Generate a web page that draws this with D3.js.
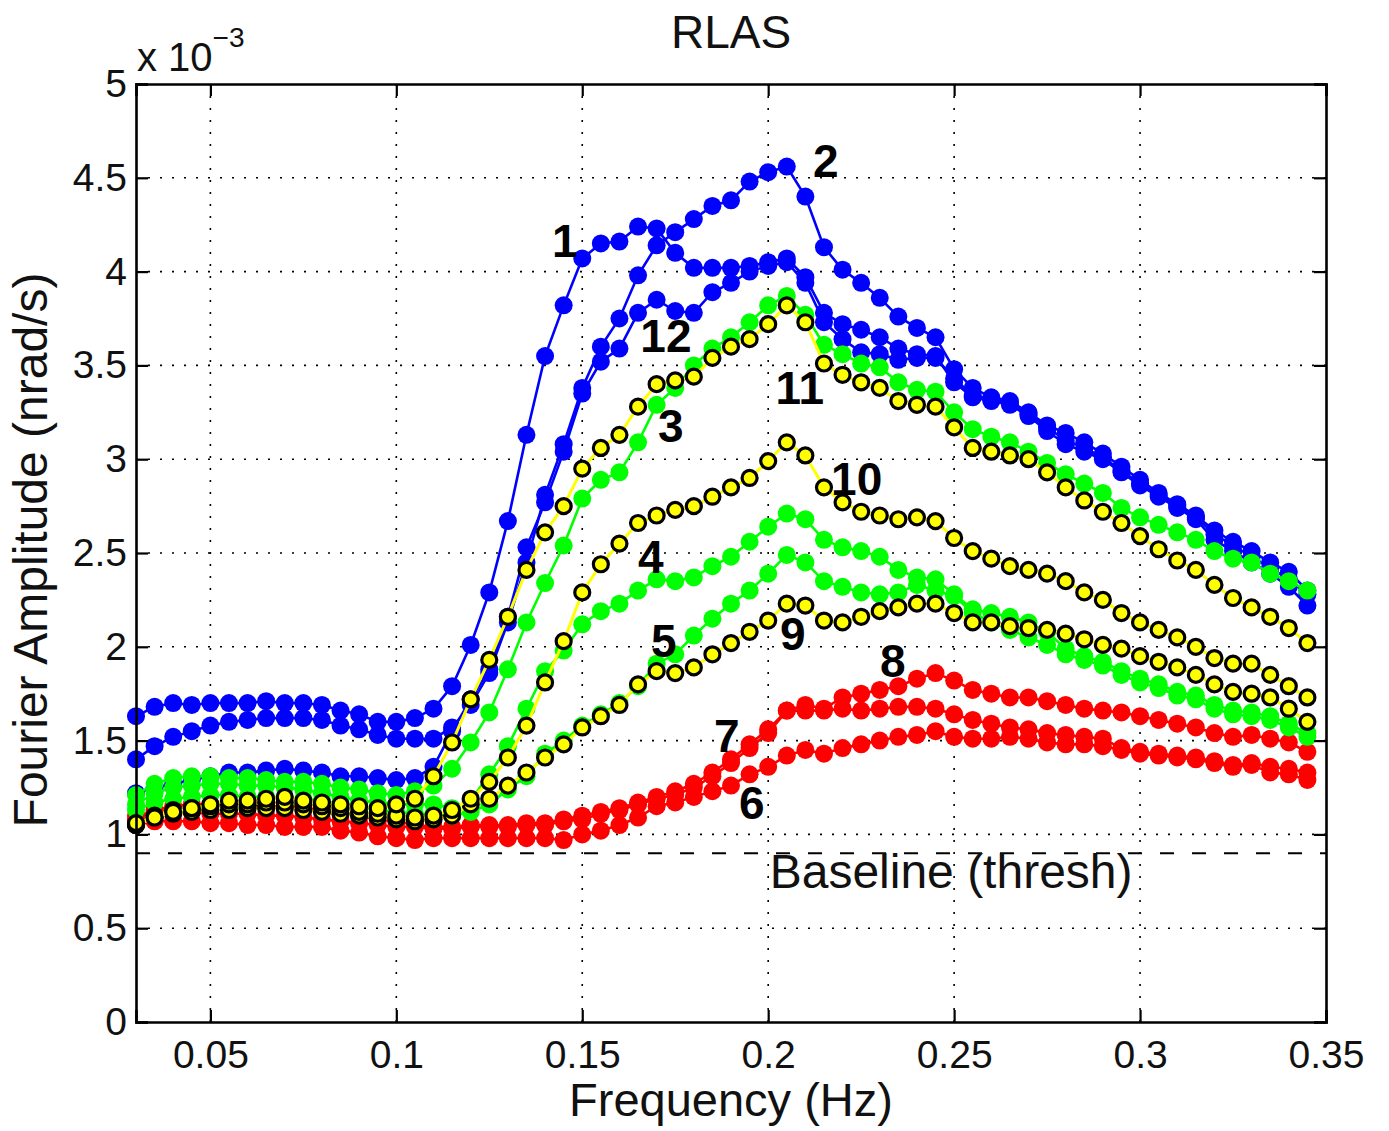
<!DOCTYPE html>
<html>
<head>
<meta charset="utf-8">
<script src="https://cdn.jsdelivr.net/npm/d3@7"></script>
<style>
  html, body { margin: 0; padding: 0; background: #fff; }
  svg { display: block; font-family: "Liberation Sans", Arial, Helvetica, sans-serif; }
</style>
</head>
<body>
<div id="chart"></div>
<script>
// frequencies (Hz)
var freq = [0.030,0.035,0.040,0.045,0.050,0.055,0.060,0.065,0.070,0.075,0.080,0.085,0.090,0.095,0.100,0.105,
            0.110,0.115,0.120,0.125,0.130,0.135,0.140,0.145,0.150,0.155,0.160,0.165,0.170,0.175,0.180,0.185,
            0.190,0.195,0.200,0.205,0.210,0.215,0.220,0.225,0.230,0.235,0.240,0.245,0.250,0.255,0.260,0.265,
            0.270,0.275,0.280,0.285,0.290,0.295,0.300,0.305,0.310,0.315,0.320,0.325,0.330,0.335,0.340,0.345];

// Fourier amplitude, units of 1e-3 nrad/s
var s1 = [1.63,1.68,1.70,1.69,1.70,1.70,1.70,1.71,1.70,1.70,1.69,1.66,1.64,1.60,1.60,1.62,
          1.67,1.79,2.01,2.29,2.67,3.13,3.55,3.82,4.07,4.15,4.16,4.24,4.23,4.10,4.02,4.02,4.02,4.03,4.05,4.07,
          3.97,3.78,3.72,3.69,3.65,3.59,3.56,3.55,
          3.41,3.33,3.31,3.29,3.23,3.15,3.08,3.04,3.00,2.93,2.86,2.80,2.74,2.68,2.57,2.51,2.45,2.39,2.32,2.22];
var s2 = [1.40,1.47,1.52,1.55,1.58,1.60,1.61,1.62,1.62,1.62,1.61,1.58,1.56,1.53,1.51,1.51,
          1.51,1.57,1.69,1.86,2.13,2.45,2.81,3.08,3.38,3.60,3.75,3.98,4.14,4.21,4.28,4.35,4.38,4.48,4.53,4.56,
          4.40,4.13,4.01,3.94,3.86,3.76,3.70,3.65,
          3.48,3.38,3.33,3.31,3.25,3.18,3.14,3.09,3.03,2.96,2.89,2.82,2.76,2.70,2.62,2.56,2.51,2.45,2.40,2.30];
var s3 = [1.21,1.27,1.30,1.31,1.31,1.30,1.30,1.29,1.28,1.28,1.27,1.25,1.24,1.22,1.21,1.23,
          1.26,1.35,1.49,1.65,1.88,2.13,2.34,2.54,2.79,2.89,2.93,3.09,3.29,3.38,3.50,3.59,3.65,3.73,3.82,3.87,
          3.77,3.61,3.56,3.51,3.49,3.41,3.37,3.36,
          3.25,3.16,3.12,3.09,3.04,2.98,2.92,2.87,2.82,2.74,2.69,2.65,2.61,2.57,2.51,2.47,2.45,2.39,2.35,2.30];
var s4 = [1.16,1.22,1.25,1.26,1.27,1.27,1.26,1.26,1.25,1.24,1.22,1.20,1.18,1.17,1.16,1.16,
          1.16,1.14,1.18,1.32,1.47,1.67,1.87,1.98,2.12,2.19,2.23,2.30,2.36,2.35,2.37,2.43,2.48,2.56,2.64,2.71,
          2.68,2.57,2.53,2.51,2.48,2.41,2.37,2.36,
          2.28,2.20,2.18,2.16,2.13,2.08,1.99,1.95,1.92,1.87,1.83,1.80,1.76,1.74,1.69,1.66,1.65,1.63,1.59,1.54];
var s5 = [1.13,1.17,1.19,1.20,1.21,1.21,1.20,1.20,1.19,1.19,1.18,1.16,1.15,1.13,1.12,1.11,
          1.11,1.10,1.12,1.16,1.24,1.31,1.43,1.50,1.58,1.64,1.70,1.79,1.91,1.96,2.06,2.15,2.23,2.30,2.39,2.49,
          2.45,2.35,2.32,2.29,2.28,2.29,2.33,2.30,
          2.27,2.18,2.13,2.09,2.05,2.01,1.96,1.93,1.90,1.85,1.81,1.78,1.74,1.72,1.67,1.64,1.63,1.61,1.57,1.52];
var s6 = [1.05,1.07,1.07,1.07,1.06,1.06,1.05,1.05,1.04,1.04,1.04,1.02,1.01,0.99,0.98,0.97,
          0.98,0.98,0.98,0.98,0.98,0.98,0.98,0.97,1.00,1.02,1.05,1.09,1.15,1.17,1.20,1.23,1.26,1.32,1.36,1.42,
          1.45,1.43,1.46,1.48,1.50,1.52,1.53,1.55,
          1.52,1.51,1.51,1.52,1.51,1.49,1.48,1.48,1.47,1.45,1.43,1.42,1.41,1.40,1.38,1.36,1.37,1.33,1.32,1.29];
var s7 = [1.10,1.12,1.12,1.12,1.11,1.11,1.11,1.10,1.10,1.09,1.08,1.07,1.06,1.05,1.04,1.04,
          1.03,1.03,1.04,1.04,1.04,1.05,1.05,1.07,1.08,1.11,1.13,1.16,1.19,1.21,1.25,1.31,1.38,1.46,1.54,1.66,
          1.66,1.66,1.67,1.66,1.67,1.68,1.68,1.67,
          1.64,1.61,1.59,1.57,1.56,1.54,1.53,1.52,1.51,1.46,1.44,1.43,1.42,1.41,1.39,1.37,1.38,1.36,1.35,1.33];
var s8 = [1.08,1.13,1.15,1.16,1.16,1.16,1.16,1.15,1.15,1.14,1.13,1.11,1.10,1.08,1.07,1.05,
          1.04,1.04,1.05,1.05,1.05,1.06,1.06,1.08,1.10,1.12,1.14,1.17,1.20,1.23,1.27,1.33,1.40,1.48,1.56,1.66,
          1.69,1.67,1.73,1.75,1.77,1.79,1.83,1.86,
          1.82,1.77,1.75,1.73,1.73,1.71,1.69,1.67,1.66,1.65,1.63,1.61,1.59,1.57,1.54,1.52,1.53,1.51,1.49,1.44];
var s9 = [1.05,1.09,1.11,1.12,1.13,1.13,1.14,1.14,1.14,1.13,1.12,1.11,1.10,1.09,1.08,1.07,
          1.08,1.10,1.16,1.19,1.26,1.33,1.41,1.48,1.57,1.63,1.69,1.80,1.87,1.86,1.89,1.96,2.02,2.08,2.14,2.23,
          2.22,2.14,2.13,2.16,2.19,2.21,2.23,2.23,
          2.18,2.13,2.13,2.11,2.10,2.09,2.07,2.04,2.01,1.99,1.95,1.92,1.89,1.85,1.80,1.76,1.75,1.73,1.67,1.60];
var s10 = [1.05,1.10,1.13,1.14,1.15,1.16,1.16,1.17,1.17,1.16,1.15,1.14,1.12,1.11,1.10,1.09,
           1.10,1.13,1.19,1.28,1.41,1.58,1.81,2.03,2.29,2.44,2.55,2.66,2.70,2.73,2.75,2.80,2.85,2.90,2.99,3.09,
           3.02,2.85,2.77,2.72,2.70,2.68,2.69,2.67,
           2.58,2.51,2.47,2.43,2.41,2.39,2.35,2.29,2.25,2.18,2.13,2.09,2.05,2.00,1.94,1.91,1.91,1.85,1.79,1.73];
var s11 = [1.06,1.09,1.12,1.14,1.16,1.18,1.18,1.19,1.20,1.18,1.17,1.16,1.15,1.14,1.16,1.19,
           1.31,1.49,1.72,1.93,2.16,2.41,2.61,2.75,2.95,3.06,3.13,3.28,3.40,3.42,3.44,3.54,3.60,3.64,3.72,3.82,
           3.73,3.51,3.45,3.41,3.38,3.31,3.29,3.28,
           3.17,3.06,3.04,3.02,3.00,2.93,2.85,2.78,2.72,2.66,2.59,2.52,2.46,2.41,2.33,2.26,2.21,2.16,2.10,2.02];
var s12 = [1.22,1.25,1.27,1.29,1.31,1.33,1.33,1.34,1.35,1.34,1.33,1.31,1.31,1.30,1.29,1.30,
           1.36,1.55,1.72,1.88,2.16,2.53,2.77,3.04,3.35,3.52,3.59,3.78,3.85,3.79,3.78,3.89,3.94,4.00,4.03,4.05,
           3.94,3.73,3.64,3.57,3.56,3.53,3.54,3.54,
           3.43,3.34,3.32,3.30,3.24,3.17,3.10,3.06,3.01,2.94,2.87,2.81,2.75,2.69,2.60,2.54,2.48,2.42,2.36,2.28];

// curve labels: text, frequency, amplitude (text baseline)
var labelText = ["1", "2", "12", "3", "11", "10", "4", "5", "9", "8", "7", "6"];
var labelFreq = [0.1453, 0.2155, 0.1725, 0.1738, 0.2085, 0.2238, 0.1684, 0.1719, 0.2066, 0.2335, 0.1889, 0.1956];
var labelAmp  = [4.078, 4.504, 3.571, 3.092, 3.294, 2.809, 2.393, 1.946, 1.983, 1.839, 1.439, 1.082];

var xTicks = [0.05, 0.1, 0.15, 0.2, 0.25, 0.3, 0.35];
var yTicks = [0, 0.5, 1, 1.5, 2, 2.5, 3, 3.5, 4, 4.5, 5];
var threshold = 0.9;

// drawing order: blue, red, green, yellow
var series = [
    {vals: s1, kind: "blue"}, {vals: s2, kind: "blue"}, {vals: s12, kind: "blue"},
    {vals: s6, kind: "red"}, {vals: s7, kind: "red"}, {vals: s8, kind: "red"},
    {vals: s3, kind: "green"}, {vals: s4, kind: "green"}, {vals: s5, kind: "green"},
    {vals: s9, kind: "yellow"}, {vals: s10, kind: "yellow"}, {vals: s11, kind: "yellow"}
];
var colors = {blue: "#0000ff", red: "#ff0000", green: "#00ff00", yellow: "#ffff00"};

var W = 1389, H = 1131;
var plotLeft = 136, plotRight = 1326, plotTop = 84, plotBottom = 1022;

var svg = d3.select("#chart").append("svg")
    .attr("width", W)
    .attr("height", H);

var x = d3.scaleLinear().domain([0.03, 0.35]).range([plotLeft, plotRight]);
var y = d3.scaleLinear().domain([0, 5]).range([plotBottom, plotTop]);

// dotted grid
var grid = svg.append("g");
grid.selectAll("line.gx").data(xTicks.filter(function(d){ return d < 0.35; })).enter().append("line")
    .attr("x1", function(d){ return x(d); }).attr("x2", function(d){ return x(d); })
    .attr("y1", plotTop).attr("y2", plotBottom)
    .attr("stroke", "#000").attr("stroke-width", 1.6).attr("stroke-dasharray", "2,10");
grid.selectAll("line.gy").data(yTicks.filter(function(d){ return d > 0 && d < 5; })).enter().append("line")
    .attr("x1", plotLeft).attr("x2", plotRight)
    .attr("y1", function(d){ return y(d); }).attr("y2", function(d){ return y(d); })
    .attr("stroke", "#000").attr("stroke-width", 1.6).attr("stroke-dasharray", "2,10");

// baseline threshold
svg.append("line")
    .attr("x1", plotLeft).attr("x2", plotRight)
    .attr("y1", y(threshold)).attr("y2", y(threshold))
    .attr("stroke", "#000").attr("stroke-width", 2).attr("stroke-dasharray", "14,18");

var line = d3.line()
    .x(function(d, i){ return x(freq[i]); })
    .y(function(d){ return y(d); });

series.forEach(function(s) {
    var g = svg.append("g");
    var c = colors[s.kind];
    g.append("path")
        .datum(s.vals)
        .attr("d", line)
        .attr("fill", "none")
        .attr("stroke", c)
        .attr("stroke-width", s.kind === "yellow" ? 3 : 2.6);
    if (s.kind === "yellow") {
        g.selectAll("circle").data(s.vals).enter().append("circle")
            .attr("cx", function(d, i){ return x(freq[i]); })
            .attr("cy", function(d){ return y(d); })
            .attr("r", 7.5)
            .attr("fill", c)
            .attr("stroke", "#000")
            .attr("stroke-width", 3.2);
    } else {
        g.selectAll("circle").data(s.vals).enter().append("circle")
            .attr("cx", function(d, i){ return x(freq[i]); })
            .attr("cy", function(d){ return y(d); })
            .attr("r", 9)
            .attr("fill", c);
    }
});

// curve numbers
svg.append("g").selectAll("text").data(labelText).enter().append("text")
    .attr("x", function(d, i){ return x(labelFreq[i]); })
    .attr("y", function(d, i){ return y(labelAmp[i]); })
    .attr("text-anchor", "middle")
    .style("font-size", "46px")
    .style("font-weight", "bold")
    .text(function(d){ return d; });

svg.append("text")
    .attr("x", x(0.2004)).attr("y", y(0.714))
    .style("font-size", "48px").attr("fill", "#111")
    .text("Baseline (thresh)");

// axes box with inward ticks on all sides
var axes = svg.append("g");
axes.append("g").attr("transform", "translate(0," + plotBottom + ")")
    .call(d3.axisBottom(x).tickValues(xTicks).tickSize(-12).tickPadding(18)
        .tickFormat(function(d){ return d3.format("")(+d.toFixed(2)); }));
axes.append("g").attr("transform", "translate(0," + plotTop + ")")
    .call(d3.axisTop(x).tickValues(xTicks).tickSize(-12).tickFormat(""));
axes.append("g").attr("transform", "translate(" + plotLeft + ",0)")
    .call(d3.axisLeft(y).tickValues(yTicks).tickSize(-12).tickPadding(9)
        .tickFormat(function(d){ return d3.format("")(d); }));
axes.append("g").attr("transform", "translate(" + plotRight + ",0)")
    .call(d3.axisRight(y).tickValues(yTicks).tickSize(-12).tickFormat(""));
axes.selectAll(".domain").attr("stroke", "#000").attr("stroke-width", 2.6);
axes.selectAll(".tick line").attr("stroke", "#000").attr("stroke-width", 2.2);
axes.selectAll(".tick text")
    .attr("fill", "#111")
    .style("font-family", "'Liberation Sans', Arial, sans-serif")
    .style("font-size", "39px");

// exponent note
var expo = svg.append("text").attr("x", 137).attr("y", 71)
    .style("font-size", "40px").attr("fill", "#111");
expo.append("tspan").text("x 10");
expo.append("tspan").attr("dy", -24).style("font-size", "28px").text("\u22123");

// title and axis labels
svg.append("text")
    .attr("x", (plotLeft + plotRight) / 2).attr("y", 48)
    .attr("text-anchor", "middle")
    .style("font-size", "46px").attr("fill", "#111")
    .text("RLAS");
svg.append("text")
    .attr("x", (plotLeft + plotRight) / 2).attr("y", 1116)
    .attr("text-anchor", "middle")
    .style("font-size", "47px").attr("fill", "#111")
    .text("Frequency (Hz)");
svg.append("text")
    .attr("transform", "translate(47," + ((plotTop + plotBottom) / 2 - 3) + ") rotate(-90)")
    .attr("text-anchor", "middle")
    .style("font-size", "48px").attr("fill", "#111")
    .text("Fourier Amplitude (nrad/s)");
</script>
</body>
</html>
